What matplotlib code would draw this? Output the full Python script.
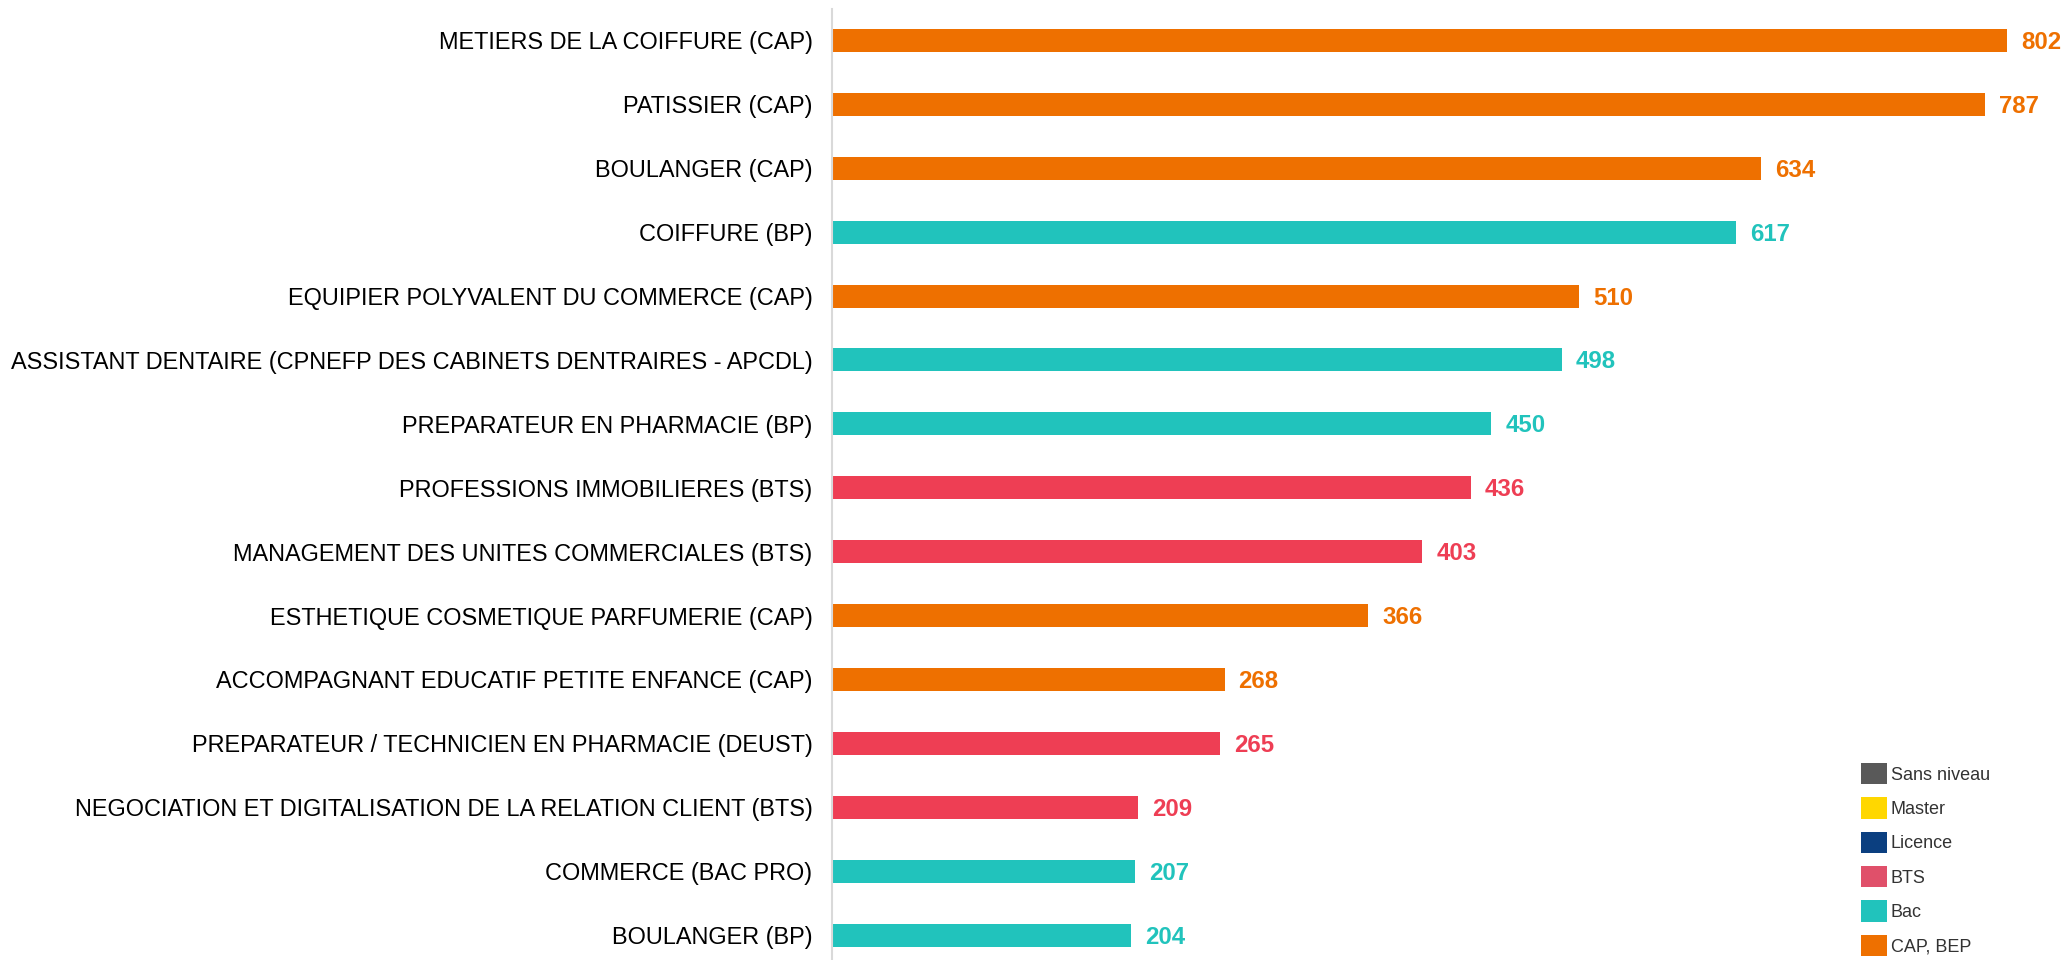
import matplotlib
matplotlib.use("Agg")
import matplotlib.pyplot as plt
from matplotlib.patches import Patch

plt.rcParams['font.family'] = ['Liberation Sans', 'DejaVu Sans']

formations = [
    "METIERS DE LA COIFFURE (CAP)",
    "PATISSIER (CAP)",
    "BOULANGER (CAP)",
    "COIFFURE (BP)",
    "EQUIPIER POLYVALENT DU COMMERCE (CAP)",
    "ASSISTANT DENTAIRE (CPNEFP DES CABINETS DENTRAIRES - APCDL)",
    "PREPARATEUR EN PHARMACIE (BP)",
    "PROFESSIONS IMMOBILIERES (BTS)",
    "MANAGEMENT DES UNITES COMMERCIALES (BTS)",
    "ESTHETIQUE COSMETIQUE PARFUMERIE (CAP)",
    "ACCOMPAGNANT EDUCATIF PETITE ENFANCE (CAP)",
    "PREPARATEUR / TECHNICIEN EN PHARMACIE (DEUST)",
    "NEGOCIATION ET DIGITALISATION DE LA RELATION CLIENT (BTS)",
    "COMMERCE (BAC PRO)",
    "BOULANGER (BP)",
]
effectifs = [802, 787, 634, 617, 510, 498, 450, 436, 403, 366, 268, 265, 209, 207, 204]
niveaux = ["CAP, BEP", "CAP, BEP", "CAP, BEP", "Bac", "CAP, BEP", "Bac", "Bac", "BTS",
           "BTS", "CAP, BEP", "CAP, BEP", "BTS", "BTS", "Bac", "Bac"]

legend_levels = ["Sans niveau", "Master", "Licence", "BTS", "Bac", "CAP, BEP"]
legend_colors = ["#595959", "#FFD700", "#0B3F80", "#E0506A", "#21C3BC", "#EE7000"]
bar_colors = {"CAP, BEP": "#EE7000", "Bac": "#21C3BC", "BTS": "#EE3E54"}

fig = plt.figure(figsize=(20.67, 9.6), dpi=100)
ax = fig.add_axes([832 / 2067, -7 / 960, 1235 / 2067, 958.5 / 960])

ypos = list(range(len(formations)))
colors = [bar_colors[n] for n in niveaux]
ax.barh(ypos, effectifs, height=0.36, color=colors, zorder=2)

for y, v, c in zip(ypos, effectifs, colors):
    ax.annotate(str(v), xy=(v, y), xytext=(14, -2), textcoords="offset pixels",
                va="center", ha="left", fontsize=17.3, fontweight="bold", color=c)

ax.set_yticks(ypos)
ax.set_yticklabels(formations, fontsize=16.9, color="#000000")
ax.set_ylim(len(formations) - 0.5, -0.5)
ax.set_xlim(0, 1235 / 1.465)
ax.tick_params(axis="y", length=0, pad=14)
ax.set_xticks([])
for side in ("top", "right", "bottom"):
    ax.spines[side].set_visible(False)
ax.spines["left"].set_color("#D9D9D9")
ax.spines["left"].set_linewidth(1.5)

handles = [Patch(facecolor=c, edgecolor="none") for c in legend_colors]
fig.legend(handles, legend_levels, loc="upper left",
           bbox_to_anchor=(1861 / 2067, 1 - 763 / 960),
           frameon=False, fontsize=13, handlelength=1.44, handleheight=1.44,
           handletextpad=0.22, labelspacing=0.72, borderpad=0, borderaxespad=0,
           labelcolor="#333333")

fig.savefig("out.png", dpi=100)
